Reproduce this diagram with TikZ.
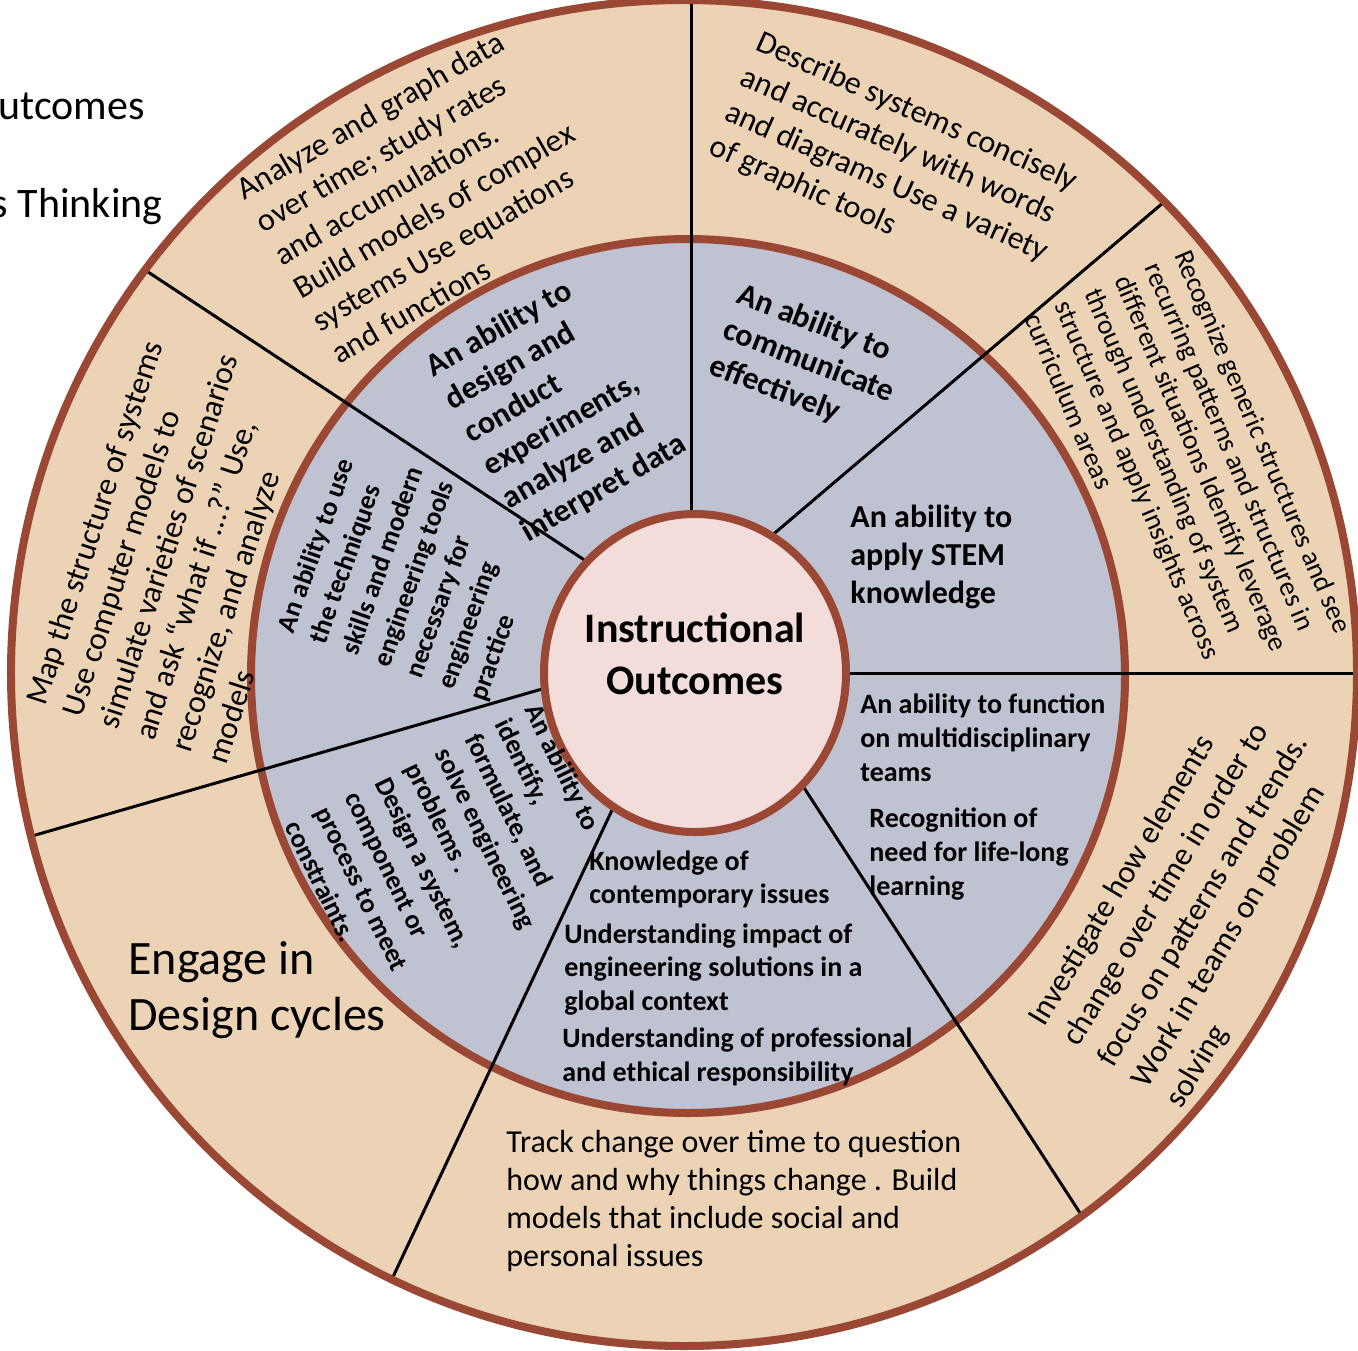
\documentclass[tikz,border=0pt]{standalone}
\usepackage{fontspec}
\setmainfont{Carlito}
\definecolor{ringtan}{RGB}{236,211,181}
\definecolor{ringblue}{RGB}{191,195,209}
\definecolor{hubpink}{RGB}{242,221,218}
\definecolor{rim}{RGB}{154,72,52}

\begin{document}
\begin{tikzpicture}[x=0.5pt, y=0.5pt,
    rimline/.style={draw=rim, line width=4pt},
    txt/.style={inner sep=0pt, anchor=north west, align=left},
    outertxt/.style={txt, font=\fontsize{16}{19}\selectfont},
    innertxt/.style={txt, font=\bfseries\fontsize{16}{19}\selectfont},
    smalltxt/.style={txt, font=\bfseries\fontsize{14}{17}\selectfont}]
    \useasboundingbox (-695,-677) rectangle (663,673);
    \fill[ringtan] (-11,0) circle (673);
    \filldraw[fill=ringblue, rimline] (-7,-3) circle (437);
    % divider ends: inside the hub and on the outer rim
    \foreach \n/\ax/\ay/\bx/\by in {1/-4/0/-4/673, 2/41/107/469/471, 3/105/0/662/0, 4/67/-50/387/-543,
                                    5/-51/-69/-303/-606, 6/-80/5/-663/-163, 7/-47/71/-550/403}
    {
        \coordinate (in\n) at (\ax,\ay);
        \coordinate (out\n) at (\bx,\by);
        \draw[line width=1.5pt] (in\n) -- (out\n);
    }
    \draw[rimline] (-11,0) circle (673);
    \filldraw[fill=hubpink, rimline] (0,0) ellipse (151 and 159);

    \node[font=\bfseries\fontsize{21}{26}\selectfont, align=center, anchor=north, inner sep=0pt]
        (hub) at (0,60) {Instructional\\Outcomes};

    % outer ring
    \node[outertxt, rotate=30] (analyze) at (-462,492) {Analyze and graph data\\over time; study rates\\and accumulations.\\Build models of complex\\systems Use equations\\and functions};
    \node[outertxt, rotate=-24] (describe) at (68,644) {Describe systems concisely\\and accurately with words\\and diagrams Use a variety\\of graphic tools};
    \node[outertxt, rotate=-67, font=\fontsize{13.8}{16.3}\selectfont] (recognize) at (497,426) {Recognize generic structures and see\\recurring patterns and structures in\\different situations Identify leverage\\through understanding of system\\structure and apply insights across\\curriculum areas};
    \node[outertxt, rotate=59, font=\fontsize{16}{20}\selectfont] (investigate) at (330,-343) {Investigate how elements\\change over time in order to\\focus on patterns and trends.\\Work in teams on problem\\solving};
    \node[outertxt] (track) at (-189,-457) {Track change over time to question\\how and why things change . Build\\models that include social and\\personal issues};
    \node[outertxt, font=\fontsize{24}{28}\selectfont] (engage) at (-567,-268) {Engage in\\Design cycles};
    \node[outertxt, rotate=72] (mapping) at (-671,-27) {Map the structure of systems\\Use computer models to\\simulate varieties of scenarios\\and ask “what if …?” Use,\\recognize, and analyze\\models};

    % inner ring
    \node[innertxt, rotate=30] (design) at (-273,315) {An ability to\\design and\\conduct\\experiments,\\analyze and\\interpret data};
    \node[innertxt, rotate=-21] (communicate) at (48,392) {An ability to\\communicate\\effectively};
    \node[innertxt] (stem) at (155,168) {An ability to\\apply STEM\\knowledge};
    \node[smalltxt] (teams) at (165,-20) {An ability to function\\on multidisciplinary\\teams};
    \node[smalltxt] (lifelong) at (174,-134) {Recognition of\\need for life-long\\learning};
    \node[smalltxt, font=\bfseries\fontsize{14}{16.5}\selectfont] (issues) at (-106,-177) {Knowledge of\\contemporary issues};
    \node[smalltxt, font=\bfseries\fontsize{14}{16.75}\selectfont] (impact) at (-131,-250) {Understanding impact of\\engineering solutions in a\\global context};
    \node[smalltxt] (ethics) at (-133,-354) {Understanding of professional\\and ethical responsibility};
    \node[smalltxt, rotate=70.5, font=\bfseries\fontsize{13.5}{17}\selectfont] (tools) at (-420,45) {An ability to use\\the techniques\\skills and modern\\engineering tools\\necessary for\\engineering\\practice};
    \node[smalltxt, rotate=-64, font=\bfseries\fontsize{13.5}{16.7}\selectfont] (identify) at (-153,-28) {An ability to\\identify,\\formulate, and\\solve engineering\\problems .\\Design a system,\\component or\\process to meet\\constraints.};

    % legend, cut at the edge
    \node[font=\fontsize{21}{25}\selectfont, anchor=base east, inner sep=0pt] (lgout) at (-550,553) {Outcomes};
    \node[font=\fontsize{21}{25}\selectfont, anchor=base east, inner sep=0pt] (lgsys) at (-532,455) {Systems Thinking};
\end{tikzpicture}
\end{document}
